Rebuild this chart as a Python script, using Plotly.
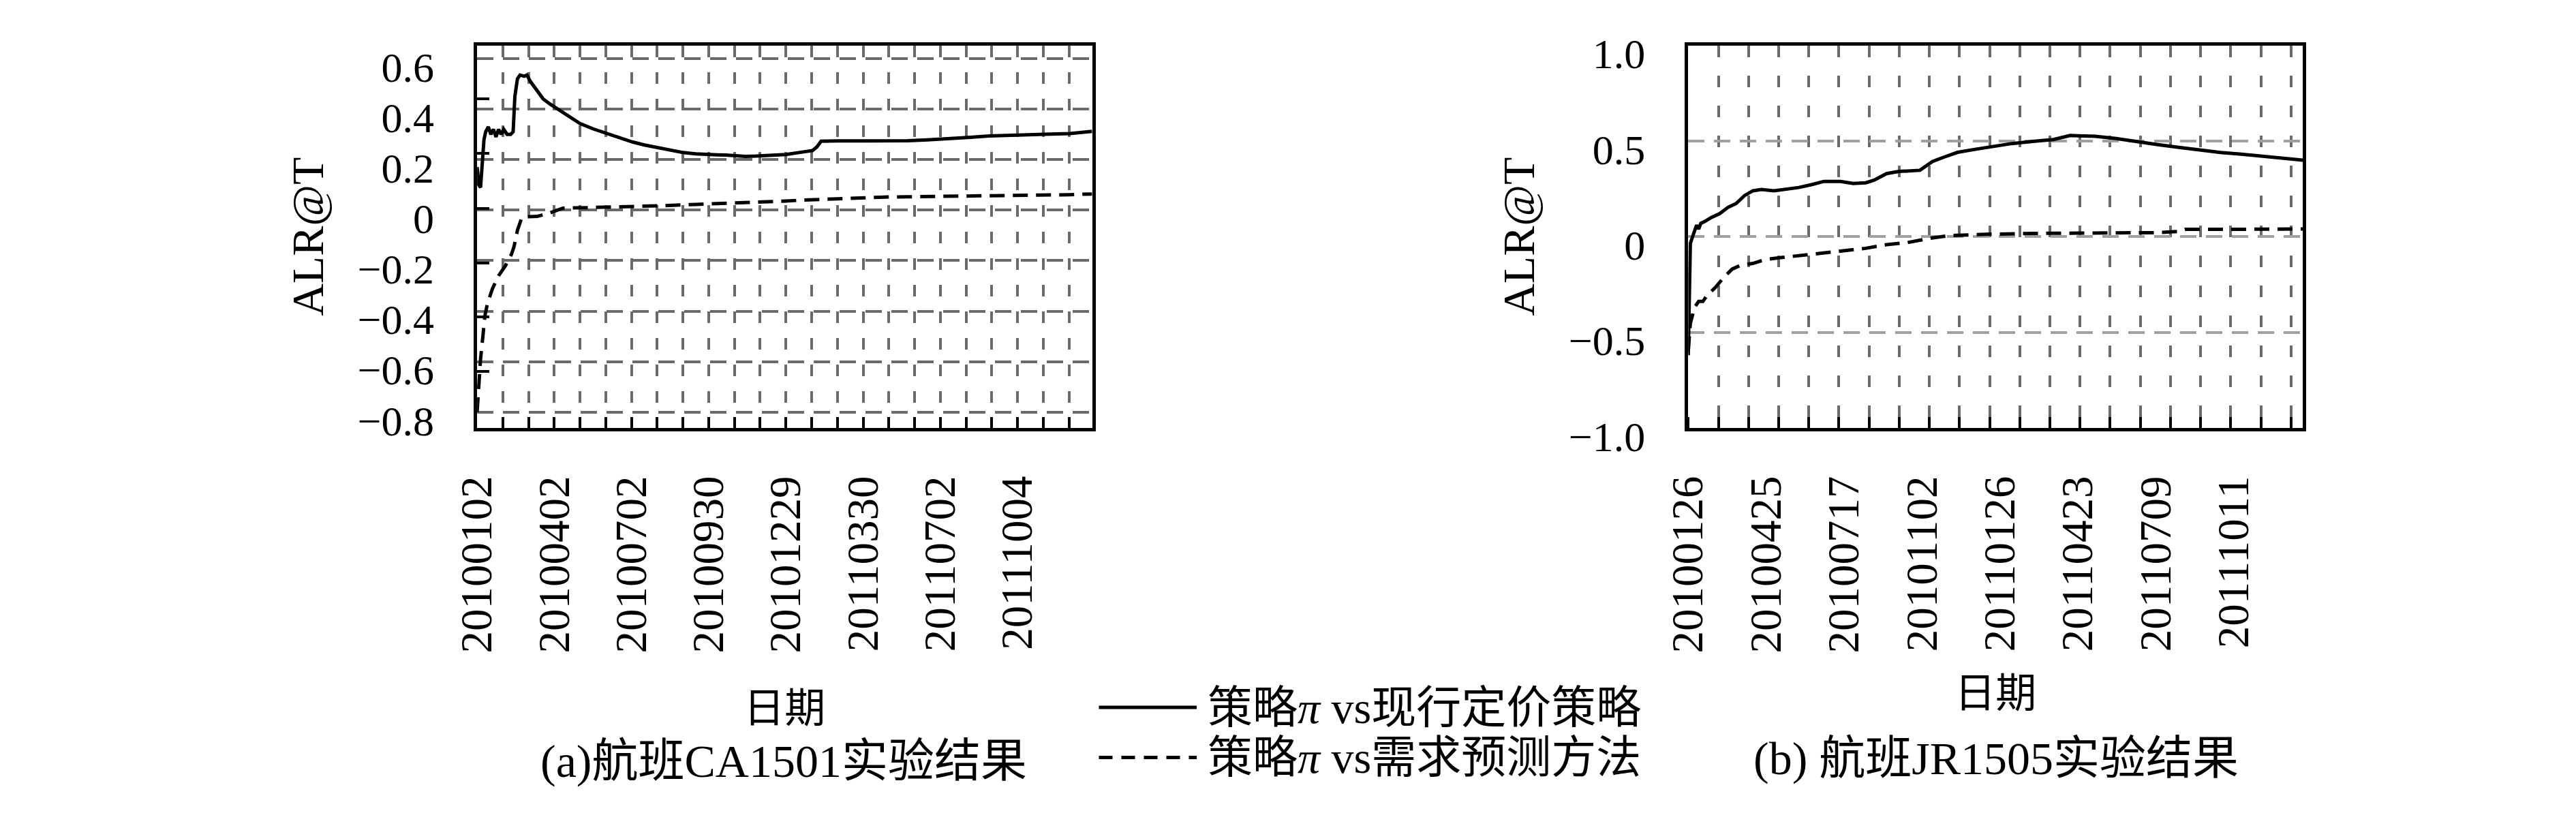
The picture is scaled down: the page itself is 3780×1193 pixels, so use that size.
import plotly.graph_objects as go

# ---------------- data ----------------
# x = trading-day index along each panel's date axis
a_tick_idx = [0, 90, 180, 270, 360, 450, 540, 630]
a_tick_dates = ["20100102", "20100402", "20100702", "20100930",
                "20101229", "20110330", "20110702", "20111004"]
b_tick_idx = [0, 90, 180, 270, 360, 450, 540, 630]
b_tick_dates = ["20100126", "20100425", "20100717", "20101102",
                "20110126", "20110423", "20110709", "20111011"]

# panel (a) flight CA1501 -- policy pi vs current pricing policy (solid)
a_solid_x = [0, 2, 4, 6, 8, 10, 13, 16, 19, 22, 25, 28, 31, 35, 39, 42, 44, 47, 50, 55,
             58, 62, 70, 77, 85, 92, 100, 110, 120, 135, 150, 165, 181, 195, 210, 225,
             240, 255, 266, 280, 290, 300, 313, 325, 342, 360, 375, 391, 396, 401, 420,
             455, 480, 502, 525, 549, 575, 597, 620, 644, 670, 691, 717]
a_solid_y = [0.17, 0.10, 0.09, 0.20, 0.28, 0.31, 0.33, 0.30, 0.32, 0.29, 0.32, 0.30, 0.32,
             0.30, 0.30, 0.31, 0.45, 0.52, 0.535, 0.53, 0.535, 0.51, 0.475, 0.44, 0.42,
             0.405, 0.385, 0.365, 0.343, 0.322, 0.305, 0.288, 0.27, 0.258, 0.247, 0.237,
             0.228, 0.223, 0.22, 0.219, 0.218, 0.216, 0.213, 0.214, 0.218, 0.22, 0.228,
             0.236, 0.25, 0.273, 0.274, 0.274, 0.275, 0.275, 0.278, 0.282, 0.288, 0.294,
             0.297, 0.30, 0.302, 0.303, 0.312]

# panel (a) -- policy pi vs demand forecasting method (dashed)
a_dash_x = [0, 1, 2, 4, 7, 9, 12, 18, 25, 33, 40, 43, 47, 52, 58, 70, 84, 94, 100, 130,
            160, 190, 219, 250, 280, 313, 340, 360, 380, 408, 430, 455, 480, 502, 549,
            597, 644, 690, 717]
a_dash_y = [-0.80, -0.74, -0.70, -0.59, -0.49, -0.42, -0.37, -0.31, -0.26, -0.22, -0.175,
            -0.145, -0.08, -0.03, -0.026, -0.025, -0.012, 0.002, 0.008, 0.010, 0.012,
            0.015, 0.018, 0.022, 0.025, 0.028, 0.032, 0.036, 0.040, 0.044, 0.047, 0.050,
            0.052, 0.053, 0.056, 0.058, 0.059, 0.061, 0.064]

# panel (b) flight JR1505 -- policy pi vs current pricing policy (solid)
b_solid_x = [0, 1.5, 2.4, 5, 7.2, 9.6, 12, 14.5, 19.3, 26.5, 36.2, 45.8, 55.4, 65, 74.7,
             84.4, 98.8, 108.5, 127.7, 142.2, 156.7, 176, 190.4, 204.9, 214.5, 229, 243.4,
             267.5, 282, 296.5, 311, 330, 349.5, 373.6, 397.7, 421.8, 441, 450.7, 470, 494,
             518, 542.3, 566.4, 590.5, 614.6, 638.7, 662.8, 687, 709.6]
b_solid_y = [-0.62, -0.08, -0.035, 0.0, 0.027, 0.06, 0.04, 0.07, 0.08, 0.10, 0.12, 0.153,
             0.174, 0.215, 0.24, 0.247, 0.24, 0.247, 0.257, 0.272, 0.289, 0.289, 0.278,
             0.282, 0.295, 0.33, 0.341, 0.347, 0.393, 0.418, 0.441, 0.456, 0.47, 0.487,
             0.498, 0.508, 0.529, 0.529, 0.525, 0.513, 0.496, 0.481, 0.467, 0.452, 0.44,
             0.431, 0.42, 0.41, 0.40]

# panel (b) -- policy pi vs demand forecasting method (dashed)
b_dash_x = [0, 2.4, 7.2, 12, 16.9, 21.7, 31.3, 41, 50.6, 60.3, 74.7, 89.2, 108.5, 132.6,
            156.7, 180.8, 204.9, 229, 253, 277.2, 301.3, 325.4, 349.5, 397.7, 445.9, 494,
            542.3, 566.4, 573.6, 614.6, 709.6]
b_dash_y = [-0.60, -0.454, -0.37, -0.339, -0.339, -0.307, -0.266, -0.213, -0.17, -0.15,
            -0.14, -0.119, -0.109, -0.098, -0.088, -0.073, -0.061, -0.042, -0.031, -0.01,
            0.006, 0.01, 0.013, 0.017, 0.017, 0.017, 0.021, 0.027, 0.038, 0.038, 0.04]

a_yticks = [-0.8, -0.6, -0.4, -0.2, 0, 0.2, 0.4, 0.6]
a_ytext = ["\u22120.8", "\u22120.6", "\u22120.4", "\u22120.2", "0", "0.2", "0.4", "0.6"]
b_yticks = [-1.0, -0.5, 0, 0.5, 1.0]
b_ytext = ["\u22121.0", "\u22120.5", "0", "0.5", "1.0"]

name_solid = "策略<i>π</i> vs现行定价策略"
name_dash = "策略<i>π</i> vs需求预测方法"

# ---------------- figure ----------------
W, H = 3780, 1193
SERIF = "Liberation Serif, Noto Sans CJK SC"
CJK = "Noto Sans CJK SC"

fig = go.Figure()
solid_line = dict(color="black", width=5)
dash_line = dict(color="black", width=5, dash="22px,12px")

fig.add_trace(go.Scatter(x=a_solid_x, y=a_solid_y, mode="lines", line=solid_line,
                         name=name_solid, xaxis="x", yaxis="y", showlegend=False))
fig.add_trace(go.Scatter(x=a_dash_x, y=a_dash_y, mode="lines", line=dash_line,
                         name=name_dash, xaxis="x", yaxis="y", showlegend=False))
fig.add_trace(go.Scatter(x=b_solid_x, y=b_solid_y, mode="lines", line=solid_line,
                         name=name_solid, xaxis="x2", yaxis="y2", showlegend=False))
fig.add_trace(go.Scatter(x=b_dash_x, y=b_dash_y, mode="lines", line=dash_line,
                         name=name_dash, xaxis="x2", yaxis="y2", showlegend=False))

ydom = [1 - 635 / H, 1 - 40 / H]
xdom_a = [661.6 / W, 1573 / W]
xdom_b = [2456.4 / W, 3367 / W]

frame = dict(showline=True, linecolor="black", linewidth=4.5, mirror=True, zeroline=False)
xtickfont = dict(family=SERIF, size=65, color="black")
ytickfont = dict(family=SERIF, size=62, color="black")
dark_grid = "#6a6a6a"
light_grid = "#a0a0a0"
GW = 3.6

fig.update_layout(
    width=W, height=H, margin=dict(l=0, r=0, t=0, b=0),
    plot_bgcolor="white", paper_bgcolor="white", showlegend=False,
    xaxis=dict(domain=xdom_a, anchor="y", range=[0, 717], tickmode="array",
               tickvals=a_tick_idx, ticktext=a_tick_dates, tickangle=-90,
               tickfont=xtickfont, ticks="inside", ticklen=16, tickwidth=3.5, tickcolor="black",
               showgrid=True, gridcolor=dark_grid, gridwidth=GW, griddash="17px,22px",
               ticklabelstandoff=40,
               minor=dict(tickmode="linear", tick0=0, dtick=30, showgrid=True,
                          gridcolor=dark_grid, gridwidth=GW, griddash="17px,22px",
                          ticks="inside", ticklen=16, tickwidth=3.5, tickcolor="black"),
               title=dict(text="日期", font=dict(family=CJK, size=60, color="black"),
                          standoff=62),
               **frame),
    yaxis=dict(domain=ydom, anchor="x", range=[-0.862, 0.652], tickmode="array",
               tickvals=a_yticks, ticktext=a_ytext, tickfont=ytickfont, ticks="",
               showgrid=True, gridcolor=dark_grid, gridwidth=GW, griddash="24px,14px",
               ticklabelstandoff=46, ticklabelshift=12,
               minor=dict(tickmode="array",
                          tickvals=[0.4416, 0.2253, 0.0076, -0.2087, -0.422, -0.6397],
                          ticks="inside", ticklen=18, tickwidth=3.5, tickcolor="black",
                          showgrid=False),
               title=dict(text="ALR@T", font=dict(family=SERIF, size=66, color="black"),
                          standoff=30),
               **frame),
    xaxis2=dict(domain=xdom_b, anchor="y2", range=[0, 709.6], tickmode="array",
                tickvals=b_tick_idx, ticktext=b_tick_dates, tickangle=-90,
                tickfont=xtickfont, ticks="", showgrid=False, ticklabelstandoff=40,
                minor=dict(tickmode="linear", tick0=0, dtick=34.8, showgrid=True,
                           gridcolor=dark_grid, gridwidth=GW, griddash="17px,27px",
                           ticks="inside", ticklen=16, tickwidth=3.5, tickcolor="black"),
                title=dict(text="日期", font=dict(family=CJK, size=60, color="black"),
                           standoff=40),
                **frame),
    yaxis2=dict(domain=ydom, anchor="x2", range=[-1.0, 1.0], tickmode="array",
                tickvals=b_yticks, ticktext=b_ytext, tickfont=ytickfont, ticks="",
                showgrid=True, gridcolor=light_grid, gridwidth=GW, griddash="24px,14px",
                ticklabelstandoff=46, ticklabelshift=12,
                title=dict(text="ALR@T", font=dict(family=SERIF, size=66, color="black"),
                           standoff=30),
                **frame),
)

# legend drawn as sample lines + text between the two panels
leg_x0, leg_x1, leg_tx = 1583 / W, 1728 / W, 1742 / W
row1, row2 = 1 - 1070 / H, 1 - 1148 / H
fig.add_shape(type="line", xref="paper", yref="paper", x0=leg_x0, x1=leg_x1, y0=row1, y1=row1,
              line=dict(color="black", width=5))
fig.add_shape(type="line", xref="paper", yref="paper", x0=leg_x0, x1=leg_x1, y0=row2, y1=row2,
              line=dict(color="black", width=5, dash="20px,13px"))
fig.add_annotation(xref="paper", yref="paper", x=leg_tx, y=row1, xanchor="left",
                   yanchor="middle", text=name_solid, showarrow=False,
                   font=dict(family=SERIF, size=66, color="black"))
fig.add_annotation(xref="paper", yref="paper", x=leg_tx, y=row2, xanchor="left",
                   yanchor="middle", text=name_dash, showarrow=False,
                   font=dict(family=SERIF, size=66, color="black"))

# sub-figure captions
fig.add_annotation(xref="paper", yref="paper", x=1116 / W, y=1 - 1154 / H, xanchor="center",
                   yanchor="middle", text="(a)航班CA1501实验结果", showarrow=False,
                   font=dict(family=SERIF, size=68, color="black"))
fig.add_annotation(xref="paper", yref="paper", x=2913 / W, y=1 - 1150 / H, xanchor="center",
                   yanchor="middle", text="(b) 航班JR1505实验结果", showarrow=False,
                   font=dict(family=SERIF, size=68, color="black"))

fig.write_html("out.html")
